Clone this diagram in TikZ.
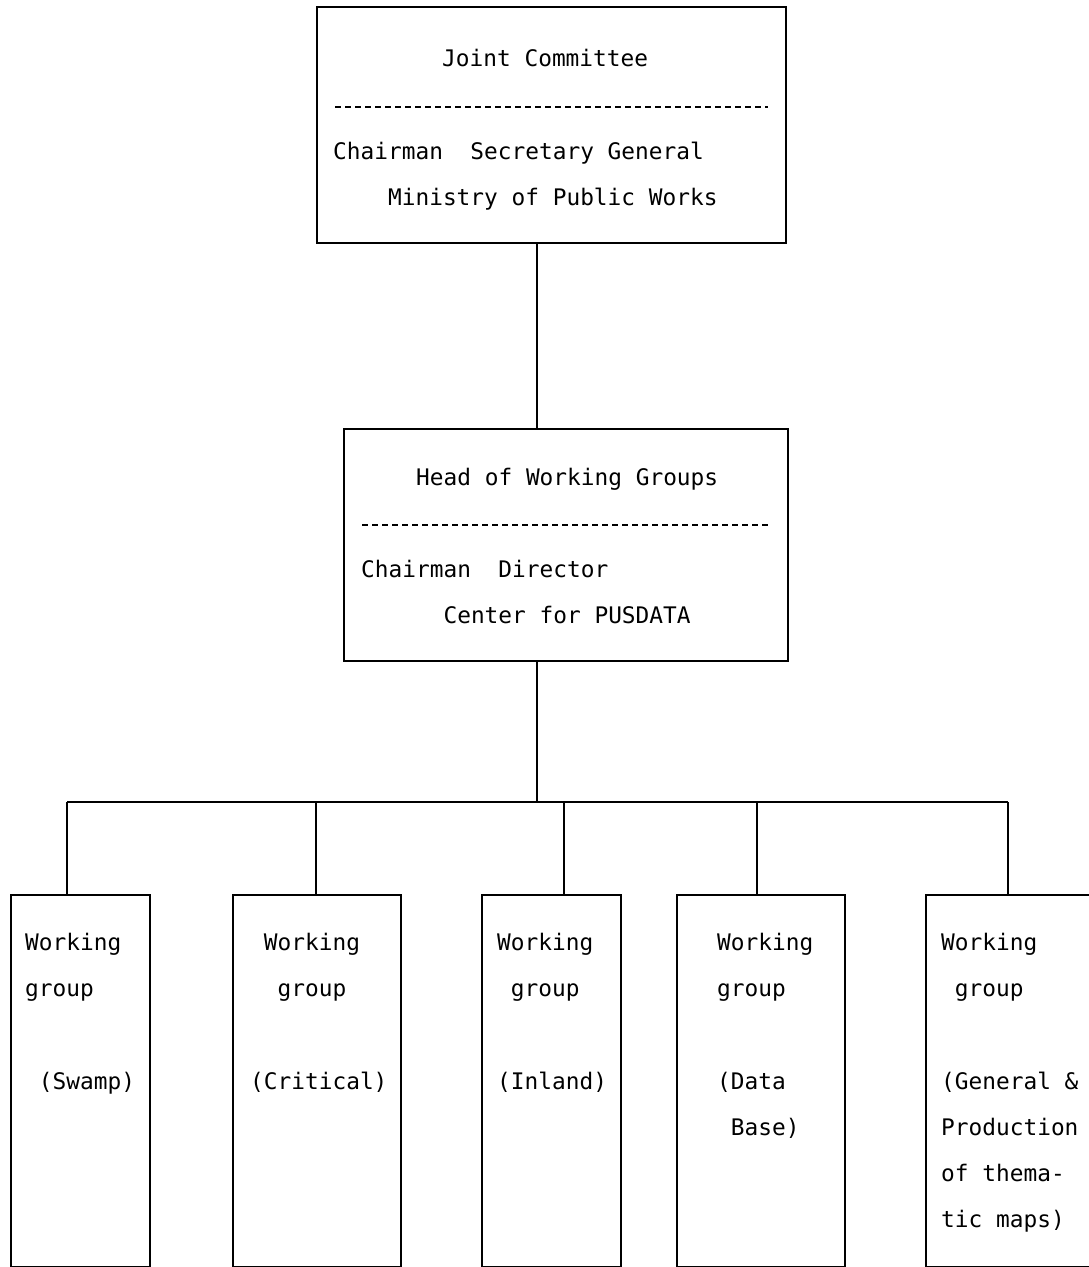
\documentclass[tikz,border=0pt]{standalone}
\usepackage{fontspec}
\usepackage{tikz}
\newfontfamily\typewfont{DejaVu Sans Mono}
\tikzset{
	orgbox/.style={rectangle, draw=black, line width=1.7pt, inner sep=0pt, anchor=north west},
	orgtext/.style={font=\typewfont\fontsize{22.8pt}{46.2pt}\selectfont, align=left, inner sep=0pt, anchor=north west,
		execute at begin node=\rule{0pt}{20pt}},
	orgline/.style={line width=1.7pt},
	divline/.style={line width=1.1pt, dash pattern=on 6pt off 4pt}
}

\begin{document}
\begin{tikzpicture}[x=1pt,y=-1pt]
			\useasboundingbox (0,0) rectangle (1088,1267);
			\node[orgbox, minimum width=469pt, minimum height=236pt] (jc) at (316,6) {};
			\node[orgbox, minimum width=444pt, minimum height=232pt] (head) at (343,428) {};
			\draw[divline] (335,107) -- (768,107);
			\draw[divline] (362,525) -- (768,525);
			% text lines: top edge sits 20pt above the first baseline
			\node[orgtext] (jctitle) at (442,46) {Joint Committee};
			\node[orgtext] (jcchair) at (333,142) {Chairman\hspace{1.204em}Secretary General\\\hspace*{2.408em}Ministry of Public Works};
			\node[orgtext] (headtitle) at (416,465) {Head of Working Groups};
			\node[orgtext] (headchair) at (361,560) {Chairman\hspace{1.204em}Director\\\hspace*{3.612em}Center for PUSDATA};
			\node[orgbox, minimum width=139pt, minimum height=372pt] (wg1) at (10,894) {};
			\node[orgbox, minimum width=168pt, minimum height=372pt] (wg2) at (232,894) {};
			\node[orgbox, minimum width=139pt, minimum height=372pt] (wg3) at (481,894) {};
			\node[orgbox, minimum width=168pt, minimum height=372pt] (wg4) at (676,894) {};
			\node[orgbox, minimum width=200pt, minimum height=372pt] (wg5) at (925,894) {};
			\node[orgtext] (wg1txt) at (25,933) {Working\\group\\[46.2pt]\hspace*{0.602em}(Swamp)};
			\node[orgtext] (wg2txt) at (250,933) {\hspace*{0.602em}Working\\\hspace*{1.204em}group\\[46.2pt](Critical)};
			\node[orgtext] (wg3txt) at (497,933) {Working\\\hspace*{0.602em}group\\[46.2pt](Inland)};
			\node[orgtext] (wg4txt) at (717,933) {Working\\group\\[46.2pt](Data\\\hspace*{0.602em}Base)};
			\node[orgtext] (wg5txt) at (941,933) {Working\\\hspace*{0.602em}group\\[46.2pt](General \&\\Production\\of thema-\\tic maps)};
			\coordinate (trunk) at (537,802);
			\coordinate (d1) at (67,802);
			\coordinate (d2) at (316,802);
			\coordinate (d3) at (564,802);
			\coordinate (d4) at (757,802);
			\coordinate (d5) at (1008,802);
			\draw[orgline] (jc.south -| trunk) -- (head.north -| trunk);
			\draw[orgline] (head.south -| trunk) -- (trunk);
			\draw[orgline] (d1) -- (d5);
			\draw[orgline] (d1) -- (d1 |- wg1.north);
			\draw[orgline] (d2) -- (d2 |- wg2.north);
			\draw[orgline] (d3) -- (d3 |- wg3.north);
			\draw[orgline] (d4) -- (d4 |- wg4.north);
			\draw[orgline] (d5) -- (d5 |- wg5.north);
		\end{tikzpicture}
\end{document}
